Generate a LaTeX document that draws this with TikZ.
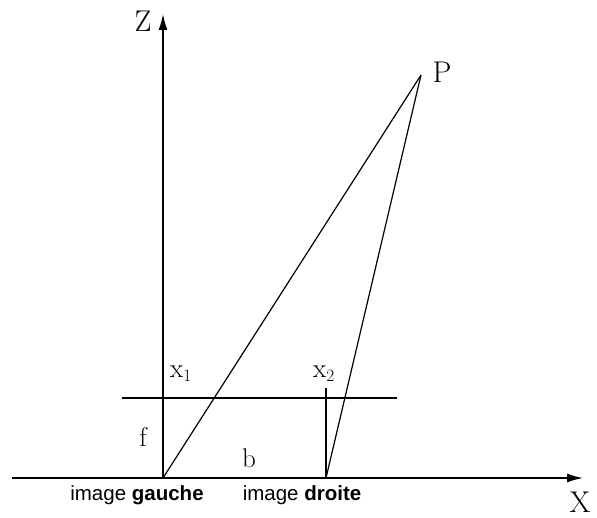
\documentclass[tikz,border=0pt]{standalone}
\usepackage{fontspec}
\newfontfamily\lsans{Liberation Sans}
\usetikzlibrary{arrows.meta}
\begin{document}
\begin{tikzpicture}[x=1pt,y=-1pt,
  ax/.style={line width=1.5pt,-{Latex[length=16pt,width=9pt]}},
  ln/.style={line width=1.2pt},
  lbl/.style={font=\fontsize{30}{30}\selectfont,inner sep=0pt},
  sml/.style={font=\fontsize{27}{27}\selectfont,inner sep=0pt},
  captxt/.style={font=\lsans\fontsize{20.5}{20.5}\selectfont,inner sep=0pt,anchor=base}]
\useasboundingbox (0,0) rectangle (597,518);
\coordinate (O1) at (163,478);
\coordinate (O2) at (326,478);
\coordinate (P) at (421,75);
\coordinate (Ztop) at (163,14);
\coordinate (Xl) at (12,478);
\coordinate (Xr) at (583,478);
\coordinate (Hl) at (122,398);
\coordinate (Hr) at (397,398);
\coordinate (V2) at (326,388);
\draw[ax] (O1) -- (Ztop);
\draw[ax] (Xl) -- (Xr);
\draw[ln] (Hl) -- (Hr);
\draw[ln] (O1) -- (P);
\draw[ln] (O2) -- (P);
\draw[ln] (O2) -- (V2);
\node[lbl] (Z) at (143,21) {Z};
\node[lbl] (Pl) at (442,72) {P};
\node[lbl] (X) at (580,502) {X};
\node[sml,anchor=base west] (x1) at (170,378) {x$_1$};
\node[sml,anchor=base west] (x2) at (313,378) {x$_2$};
\node[sml] (f) at (143,437) {f};
\node[sml] (b) at (249,458) {b};
\node[captxt] (g) at (137,500) {image \textbf{gauche}};
\node[captxt] (d) at (302,500) {image \textbf{droite}};
\end{tikzpicture}
\end{document}
